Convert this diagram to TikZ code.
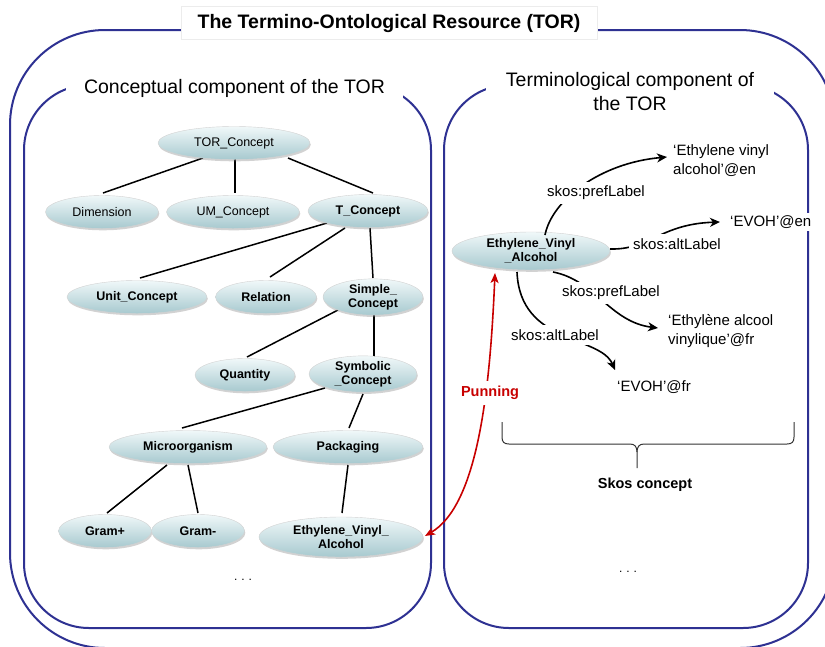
\documentclass[tikz,border=0pt]{standalone}
\usepackage{fontspec}
\setmainfont{Liberation Sans}
\usetikzlibrary{shapes.geometric,shadows,arrows.meta,calc}
\definecolor{navy}{HTML}{2E3192}
\definecolor{nodetop}{HTML}{F0F8F9}
\definecolor{nodebot}{HTML}{A7C9CF}
\definecolor{punred}{HTML}{C80000}
\pgfdeclarelayer{background}
\pgfsetlayers{background,main}
\begin{document}
\begin{tikzpicture}[x=1pt,y=-1pt,
  concept/.style={ellipse, inner sep=0pt, top color=nodetop, bottom color=nodebot,
    draw=gray!35, line width=0.4pt,
    drop shadow={shadow xshift=0.8pt, shadow yshift=-1.8pt, opacity=0.35},
    minimum height=33pt, align=center,
    font=\fontsize{12.5}{14}\selectfont\bfseries},
  conceptp/.style={concept, font=\fontsize{12.5}{14}\selectfont},
  tree/.style={line width=1.5pt, black},
  box/.style={draw=navy, line width=2pt, rounded corners=65pt},
  sectitle/.style={fill=white, font=\fontsize{19.5}{24}\selectfont, align=center, inner ysep=2pt},
  skoslab/.style={fill=white, inner sep=4pt, font=\fontsize{15}{19}\selectfont},
  value/.style={font=\fontsize{15}{19}\selectfont, align=left, inner sep=3pt},
  skosarrow/.style={line width=1.6pt, black, -{Stealth[length=10pt,width=9pt,inset=3pt]}},
  punarrow/.style={line width=1.6pt, punred, {Stealth[length=10pt,width=8pt,inset=2.5pt]}-{Stealth[length=10pt,width=8pt,inset=2.5pt]}},
  bracestyle/.style={line width=1pt, black!80},
  dots/.style={font=\fontsize{12}{14}\selectfont}
]
\clip (0,0) rectangle (825,646);
\begin{pgfonlayer}{background}
\fill[white] (0,0) rectangle (825,646);
\end{pgfonlayer}

% outer box
\draw[draw=navy, line width=2pt, rounded corners=95pt] (10,30) rectangle (835,648);
\node[fill=white, draw=gray!15, minimum width=416pt, minimum height=33pt,
  font=\fontsize{19.5}{22}\selectfont\bfseries] (title) at (389,23) {The Termino-Ontological Resource (TOR)};

% inner boxes
\draw[box] (24,85) rectangle (431,628);
\draw[box] (444,85) rectangle (808,628);
\node[sectitle, minimum width=337pt] (ctitle) at (234.5,88) {Conceptual component of the TOR};
\node[sectitle, minimum width=288pt] (ttitle) at (630,92) {Terminological component of\\the TOR};

% concept nodes (left)
\node[conceptp, minimum width=152pt] (tor) at (234,143) {TOR\_Concept};
\node[conceptp, minimum width=113pt] (dim) at (102,212) {Dimension};
\node[conceptp, minimum width=133pt] (um) at (233,212) {UM\_Concept};
\node[concept, minimum width=120pt] (tc) at (368,211) {T\_Concept};
\node[concept, minimum width=140pt] (unit) at (137,297) {Unit\_Concept};
\node[concept, minimum width=101pt] (rel) at (266,297) {Relation};
\node[concept, minimum width=100pt, minimum height=35pt] (simple) at (373,297) {Simple\_\\Concept};
\node[concept, minimum width=100pt] (qty) at (245,375) {Quantity};
\node[concept, minimum width=108pt, minimum height=35pt] (symb) at (363,374) {Symbolic\\\_Concept};
\node[concept, minimum width=158pt] (micro) at (188,447) {Microorganism};
\node[concept, minimum width=150pt] (pack) at (348,447) {Packaging};
\node[concept, minimum width=93pt] (gplus) at (105,531) {Gram+};
\node[concept, minimum width=93pt] (gminus) at (198,531) {Gram-};
\node[concept, minimum width=164pt, minimum height=40pt] (eval) at (341,537) {Ethylene\_Vinyl\_\\Alcohol};

% tree connectors
\begin{pgfonlayer}{background}
\draw[tree] ($(tor)+(-31,15)$) -- ($(dim)+(1,-19)$);
\draw[tree] ($(tor)+(1,15)$) -- ($(um)+(2,-19)$);
\draw[tree] ($(tor)+(54,15)$) -- ($(tc)+(5,-18)$);
\draw[tree] ($(tc)+(-41,12)$) -- ($(unit)+(3,-19)$);
\draw[tree] ($(tc)+(-23,17)$) -- ($(rel)+(4,-20)$);
\draw[tree] ($(tc)+(2,17)$) -- ($(simple)+(0,-19)$);
\draw[tree] ($(simple)+(-35,13)$) -- ($(qty)+(2,-18)$);
\draw[tree] ($(simple)+(1,18)$) -- ($(symb)+(11,-17)$);
\draw[tree] ($(symb)+(-38,14)$) -- ($(micro)+(-6,-19)$);
\draw[tree] ($(symb)+(0,20)$) -- ($(pack)+(1,-19)$);
\draw[tree] ($(micro)+(-21,18)$) -- ($(gplus)+(2,-18)$);
\draw[tree] ($(micro)+(0,18)$) -- ($(gminus)+(0,-18)$);
\draw[tree] ($(pack)+(0,18)$) -- ($(eval)+(1,-24)$);
\end{pgfonlayer}

% right side
\node[concept, minimum width=158pt, minimum height=38pt] (evar) at (531,251) {Ethylene\_Vinyl\\\_Alcohol};

\node[value, anchor=west] (etEN) at (670,161) {‘Ethylene vinyl\\alcohol’@en};
\node[value, anchor=west, fill=white] (evohEN) at (727,222) {‘EVOH’@en};
\node[value, anchor=west] (etFR) at (665,331) {‘Ethylène alcool\\vinylique’@fr};
\node[value] (evohFR) at (654,387) {‘EVOH’@fr};

\draw[skosarrow] ($(evar)+(14,-16)$) .. controls (552,200) and (600,163) .. ($(etEN.west)+(-3,-4)$);
\draw[skosarrow] ($(evar)+(79,-2)$) .. controls (650,250) and (660,224) .. ($(evohEN.west)+(-7,0)$);
\draw[skosarrow] ($(evar)+(22,21)$) .. controls (595,280) and (610,322) .. ($(etFR.west)+(-7,-3)$);
\draw[skosarrow] ($(evar)+(-14,21)$) .. controls (520,345) and (600,335) .. ($(evohFR)+(-39,-17)$);

\node[skoslab] (l1) at (596,193) {skos:prefLabel};
\node[skoslab] (l2) at (677,244) {skos:altLabel};
\node[skoslab] (l3) at (611,293) {skos:prefLabel};
\node[skoslab] (l4) at (555,335) {skos:altLabel};

% punning
\draw[punarrow] ($(evar)+(-36,22)$) .. controls (490,390) and (478,505) .. ($(eval)+(84,-1)$);
\node[fill=white, inner sep=5pt, text=punred, font=\fontsize{14.5}{17}\selectfont\bfseries] (pun) at (490,393) {Punning};

% brace
\coordinate (bl) at (502,422);
\coordinate (br) at (794,422);
\coordinate (btip) at (637,468);
\draw[bracestyle] (bl) -- (502,437) .. controls (502,442) and (504,444) .. (509,444) -- (630,444) .. controls (635,444) and (637,447) .. (637,452) -- (btip);
\draw[bracestyle] (637,452) .. controls (637,447) and (639,444) .. (644,444) -- (787,444) .. controls (792,444) and (794,442) .. (794,437) -- (br);
\node[font=\fontsize{14.5}{17}\selectfont\bfseries] (skos) at (645,485) {Skos concept};

\node[dots] (dl) at (243,580) {.\,\,.\,\,.};
\node[dots] (dr) at (628,572) {.\,\,.\,\,.};
\end{tikzpicture}
\end{document}
